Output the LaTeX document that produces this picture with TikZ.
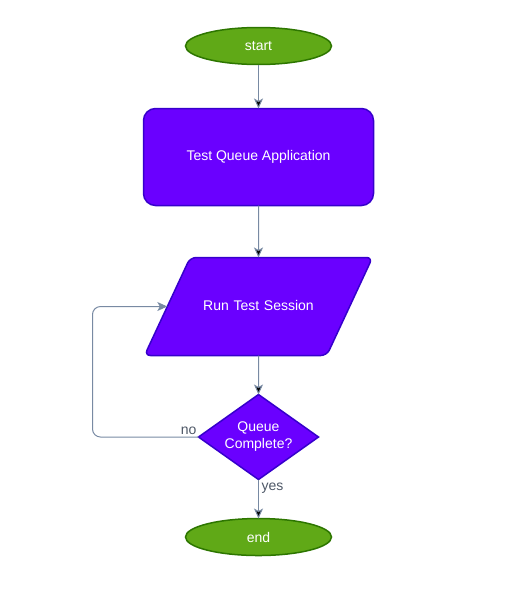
\documentclass[tikz,border=0pt]{standalone}
\usepackage{fontspec}
\setmainfont{Liberation Sans}
\usepackage{tikz}
\usetikzlibrary{shapes.geometric, positioning, arrows.meta}
\definecolor{violetfill}{HTML}{6A00FF}
\definecolor{violetline}{HTML}{3700CC}
\definecolor{greenfill}{HTML}{60A917}
\definecolor{greenline}{HTML}{2D7600}
\definecolor{flowline}{HTML}{788AA3}
\definecolor{labeltext}{HTML}{4D5766}
\tikzset{
	>={Stealth[length=10pt, width=9pt, inset=2.5pt]}, % arrow heads of the connectors
	every node/.style={font=\fontsize{14}{17}\selectfont, outer sep=0pt, inner sep=0pt}, % text size
	terminal/.style={ellipse, draw=greenline, fill=greenfill, line width=1.5pt, text=white, minimum width=146pt, minimum height=37pt}, % start and end
	process/.style={rectangle, rounded corners=12pt, draw=violetline, fill=violetfill, line width=1.5pt, text=white, minimum width=230pt, minimum height=97pt}, % plain step
	io/.style={trapezium, trapezium left angle=65, trapezium right angle=115, rounded corners=6pt, draw=violetline, fill=violetfill, line width=1.5pt, text=white, text width=136.6pt, align=center, text height=10pt, text depth=3pt, inner xsep=0pt, inner ysep=42.5pt}, % input/output step
	decision/.style={diamond, aspect=1.4, draw=violetline, fill=violetfill, line width=1.5pt, text=white, align=center, minimum width=120pt, minimum height=85pt}, % question
	flow/.style={->, draw=flowline, line width=1pt}, % connectors
	edgelabel/.style={text=labeltext, inner sep=3pt}, % texts on connectors
}
\begin{document}
\begin{tikzpicture}[x=1pt, y=-1pt]
	\useasboundingbox (0,0) rectangle (507,589);
			\node[terminal] (start) at (258.5,46) {start};
			\node[process, below=44pt of start] (test) {Test Queue Application};
			\node[io, below=52pt of test] (run) {Run Test Session};
			\node[decision, below=39pt of run] (done) {Queue\\Complete?};
			\node[terminal, below=39pt of done] (stop) {end};
	\draw[flow] 	(start) edge (test)
			(test) edge (run)
			(run) edge (done)
			(done) edge node[edgelabel, pos=0, below right]{yes} (stop);
	\draw[flow, rounded corners=8pt] (done.west) node[edgelabel, above left, inner sep=2pt]{no}
			-- ++(-106,0) |- (run.west);
	\end{tikzpicture}
\end{document}
